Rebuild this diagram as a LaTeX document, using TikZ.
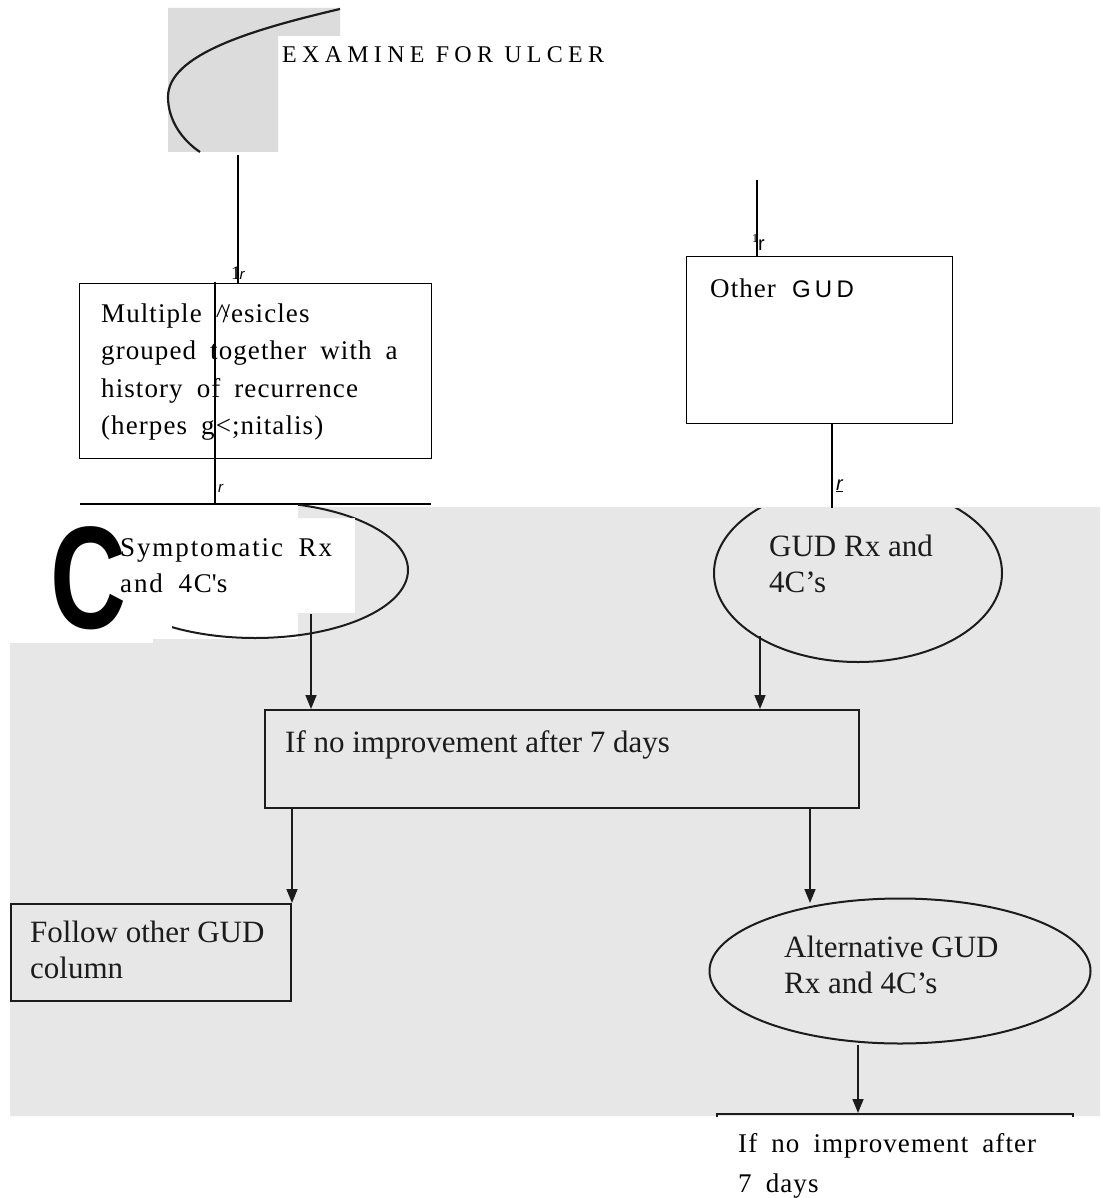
\documentclass[tikz,border=0pt]{standalone}
\usepackage{graphicx}
\usepackage{fontspec}
\setmainfont{Liberation Serif}
\setsansfont{Liberation Sans}
\newfontfamily\trackten{Liberation Serif}[LetterSpace=4,WordSpace=1.8]
\newfontfamily\tracktwelve{Liberation Serif}[LetterSpace=7,WordSpace=1.8]
\newfontfamily\trackexam{Liberation Serif}[LetterSpace=22]
\newfontfamily\tracksans{Liberation Sans}[LetterSpace=18]
\usetikzlibrary{shapes.geometric,arrows.meta}
\definecolor{scangray}{HTML}{E7E7E7}
\definecolor{patchgray}{HTML}{DCDCDC}
\definecolor{ink}{HTML}{1C1C1C}
\begin{document}
\begin{tikzpicture}[x=1pt,y=-1pt,
  cleanbox/.style={draw=black,line width=1.3pt,inner sep=0pt,anchor=north west},
  scanbox/.style={draw=ink,line width=2pt,inner sep=0pt,anchor=north west},
  scanoval/.style={ellipse,draw=ink,line width=2pt,inner sep=0pt},
  wire/.style={draw=black,line width=1.3pt},
  flow/.style={draw=ink,line width=1.6pt,-{Triangle[length=14pt,width=11pt]}},
  txt/.style={anchor=base west,inner sep=0pt,align=left},
  cleantext/.style={txt,font=\trackten\fontsize{27}{37.5}\selectfont},
  scantext/.style={txt,text=ink,font=\fontsize{31}{36}\selectfont},
  marktext/.style={inner sep=0pt,anchor=base west,font=\fontsize{19}{19}\selectfont},
]
\useasboundingbox (0,0) rectangle (1100,1198);
\fill[white] (0,0) rectangle (1100,1198);

% scanned grey patches
\fill[patchgray] (168,8) -- (340,8) -- (340,36) -- (278,36) -- (278,152) -- (168,152) -- cycle;
\fill[scangray] (10,643) -- (153,643) -- (153,639) -- (298,639) -- (298,613) -- (355,613)
  -- (355,518) -- (298,518) -- (298,507) -- (1100,507) -- (1100,1116) -- (10,1116) -- cycle;

% top oval fragment
\draw[ink,line width=2.2pt] (340,9) .. controls (250,30) and (168,55) .. (168,97)
  .. controls (168,120) and (182,140) .. (200,152);
\node[txt,font=\trackexam\fontsize{24}{28}\selectfont] (exam) at (282,63) {EXAMINE FOR ULCER};

% left clean box
\node[cleanbox,minimum width=352pt,minimum height=175pt] (b1) at (79,283) {};
\coordinate (topA) at (238,155);
\draw[wire] (topA) -- (topA |- b1.north);
\node[marktext] (m1) at (231,279) {1\kern-1pt{\sffamily\itshape\fontsize{15}{15}\selectfont r}};
% multi-line text: base anchor = baseline of the last line
\node[cleantext] (t1) at (101,434.5) {Multiple \textasciicircum\kern-6pt/esicles\\grouped together with a\\history of recurrence\\(herpes g\textless;nitalis)};
\coordinate (cutA) at (215,282);
\coordinate (cutB) at (215,504);
\draw[wire] (cutA) -- (cutB);
\coordinate (hl) at (80,504);
\coordinate (hr) at (431,504);
\draw[wire] (hl) -- (hr);
\node[marktext,font=\sffamily\itshape\fontsize{15}{15}\selectfont] (m2) at (218,492) {r};

% right clean box
\node[cleanbox,minimum width=266pt,minimum height=167pt] (b2) at (686,256) {};
\coordinate (topB) at (757,180);
\draw[wire] (topB) -- (topB |- b2.north);
\node[marktext] (m3) at (752,251) {\raisebox{8pt}{\fontsize{12}{12}\selectfont 1}{\sffamily\fontsize{20}{20}\selectfont r}};
\node[txt] (t2) at (710,297) {{\trackten\fontsize{27}{30}\selectfont Other}\hspace{16pt}{\tracksans\fontsize{24}{30}\selectfont GUD}};
\coordinate (rx) at (832,508);
\draw[wire] (b2.south -| rx) -- (rx);
\node[marktext,font=\sffamily\itshape\fontsize{20}{20}\selectfont] (m4) at (836,490) {\underline{r}};

% symptomatic oval (partly hidden)
\begin{scope}
  \clip (298,504) -- (470,504) -- (470,700) -- (172,700) -- (172,613) -- (355,613) -- (355,518) -- (298,518) -- cycle;
  \node[scanoval,minimum width=306pt,minimum height=136pt] (e1) at (255,570) {};
\end{scope}
\node[txt,font=\tracktwelve\fontsize{27}{36}\selectfont] (t3) at (120,592) {Symptomatic Rx\\and 4C\textquotesingle s};
\node[anchor=base west,inner sep=0pt,font=\sffamily\bfseries\fontsize{146}{146}\selectfont] (bigC) at (50,628) {\scalebox{0.72}[1]{C}};

% GUD Rx oval
\begin{scope}
  \clip (600,508) rectangle (1100,700);
  \node[scanoval,minimum width=288pt,minimum height=178pt] (e2) at (858,573) {};
\end{scope}
\node[scantext] (t4) at (769,592) {GUD Rx and\\4C’s};

% middle box
\node[scanbox,minimum width=594pt,minimum height=98pt] (b3) at (264,709) {};
\node[scantext] (t5) at (285,752) {If no improvement after 7 days};
\coordinate (a1s) at (311,614);
\draw[flow] (a1s) -- (a1s |- b3.north);
\coordinate (a2s) at (760,636);
\draw[flow] (a2s) -- (a2s |- b3.north);

% follow other box
\node[scanbox,minimum width=280pt,minimum height=97pt] (b4) at (10,903) {};
\node[scantext] (t6) at (30,978) {Follow other GUD\\column};
\draw[flow] (b3.south -| b4.north east) -- (b4.north east);

% alternative oval
\node[scanoval,minimum width=381pt,minimum height=145pt] (e3) at (900,971) {};
\node[scantext] (t7) at (784,993) {Alternative GUD\\Rx and 4C’s};
\coordinate (a4e) at (810,903);
\draw[flow] (b3.south -| a4e) -- (a4e);

% last box (top edge only)
\coordinate (b5l) at (717,1114);
\coordinate (b5r) at (1073,1114);
\draw[ink,line width=2pt] (717,1117) -- (b5l) -- (b5r) -- (1073,1117);
\coordinate (a5e) at (858,1113);
\draw[flow] (e3.south -| a5e) -- (a5e);
\node[txt,font=\trackten\fontsize{27}{40}\selectfont] (t8) at (738,1192) {If no improvement after\\7 days};
\end{tikzpicture}
\end{document}
